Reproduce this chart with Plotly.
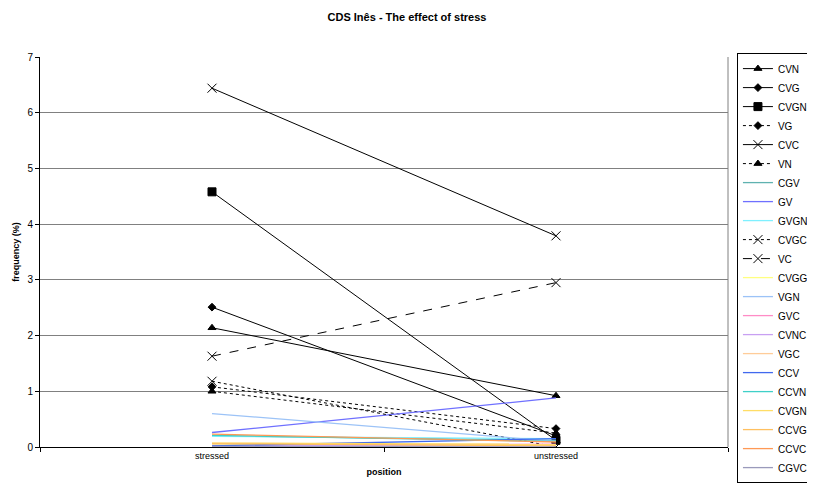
import plotly.graph_objects as go

positions = ["stressed", "unstressed"]

series_names = ["CVN", "CVG", "CVGN", "VG", "CVC", "VN", "CGV", "GV", "GVGN", "CVGC", "VC",
                "CVGG", "VGN", "GVC", "CVNC", "VGC", "CCV", "CCVN", "CVGNC", "CCVG", "CCVC", "CGVC"]

CVN = [2.14, 0.92]
CVG = [2.51, 0.20]
CVGN = [4.58, 0.12]
VG = [1.08, 0.33]
CVC = [6.44, 3.79]
VN = [1.00, 0.25]
CGV = [0.20, 0.12]
GV = [0.26, 0.88]
GVGN = [0.19, 0.15]
CVGC = [1.18, 0.00]
VC = [1.63, 2.95]
CVGG = [0.05, 0.03]
VGN = [0.60, 0.10]
GVC = [0.02, 0.05]
CVNC = [0.03, 0.02]
VGC = [0.07, 0.04]
CCV = [0.02, 0.15]
CCVN = [0.21, 0.10]
CVGNC = [0.07, 0.05]
CCVG = [0.06, 0.02]
CCVC = [0.23, 0.09]
CGVC = [0.01, 0.00]

values = [CVN, CVG, CVGN, VG, CVC, VN, CGV, GV, GVGN, CVGC, VC,
          CVGG, VGN, GVC, CVNC, VGC, CCV, CCVN, CVGNC, CCVG, CCVC, CGVC]

styles = {
    "CVN": dict(dash="solid", symbol="triangle-up", size=7),
    "CVG": dict(dash="solid", symbol="diamond", size=6),
    "CVGN": dict(dash="solid", symbol="square", size=8),
    "VG": dict(dash="dot", symbol="diamond", size=6),
    "CVC": dict(dash="solid", symbol="x-thin-open", size=9),
    "VN": dict(dash="dot", symbol="triangle-up", size=7),
    "VC": dict(dash="dash", symbol="x-thin-open", size=9),
    "CVGC": dict(dash="dot", symbol="x-thin-open", size=9),
}
colors = {
    "CGV": "#5fb2b0", "GV": "#6f70ff", "GVGN": "#7ff0ff", "CVGG": "#ffff80",
    "VGN": "#9cc3f7", "GVC": "#ff8cc6", "CVNC": "#c8a0f2", "VGC": "#ffcc99",
    "CCV": "#4169ee", "CCVN": "#3fd0c8", "CVGNC": "#ffdd66", "CCVG": "#ffc060",
    "CCVC": "#ff9955", "CGVC": "#9a9abb",
}

fig = go.Figure()
for name, vals in zip(series_names, values):
    if name in styles:
        s = styles[name]
        fig.add_trace(go.Scatter(
            x=positions, y=vals, name=name, mode="lines+markers",
            line=dict(color="black", width=1, dash=s["dash"]),
            marker=dict(symbol=s["symbol"], size=s["size"], color="black",
                        line=dict(color="black", width=1)),
        ))
    else:
        fig.add_trace(go.Scatter(
            x=positions, y=vals, name=name, mode="lines",
            line=dict(color=colors[name], width=1.3),
        ))

font_family = "Liberation Sans, Arial, sans-serif"

# page has an 8px body margin; margins compensate so the plot lands where the reference has it
fig.update_layout(
    width=815, height=490,
    paper_bgcolor="white", plot_bgcolor="white",
    margin=dict(l=32, r=95, t=49, b=51, autoexpand=False),
    font=dict(family=font_family, size=10, color="black"),
    title=dict(text="<b>CDS Inês - The effect of stress</b>", x=(407 - 8) / 815, xanchor="center",
               y=1 - 9 / 490, yanchor="middle", font=dict(size=11)),
    showlegend=True,
    legend=dict(x=1.013, y=1.01, xanchor="left", yanchor="top", maxheight=450,
                bordercolor="black", borderwidth=1, bgcolor="white",
                font=dict(size=10), itemwidth=30, tracegroupgap=0),
    xaxis=dict(type="category", range=[-0.5, 1.5], showgrid=False,
               showline=True, linecolor="black", linewidth=1,
               ticks="outside", ticklen=4, tickcolor="black", tickson="boundaries",
               title=dict(text="<b>position</b>", font=dict(size=9), standoff=8),
               tickfont=dict(size=9)),
    yaxis=dict(range=[0, 7], dtick=1, showgrid=True, gridcolor="#808080", gridwidth=1,
               showline=True, linecolor="black", linewidth=1, zeroline=False,
               ticks="outside", ticklen=4, tickcolor="black",
               title=dict(text="<b>frequency (%)</b>", font=dict(size=9), standoff=6),
               tickfont=dict(size=10)),
    shapes=[dict(type="line", xref="paper", yref="paper", x0=1, x1=1, y0=0, y1=1,
                 line=dict(color="#808080", width=1))],
)

fig.write_html("out.html")
